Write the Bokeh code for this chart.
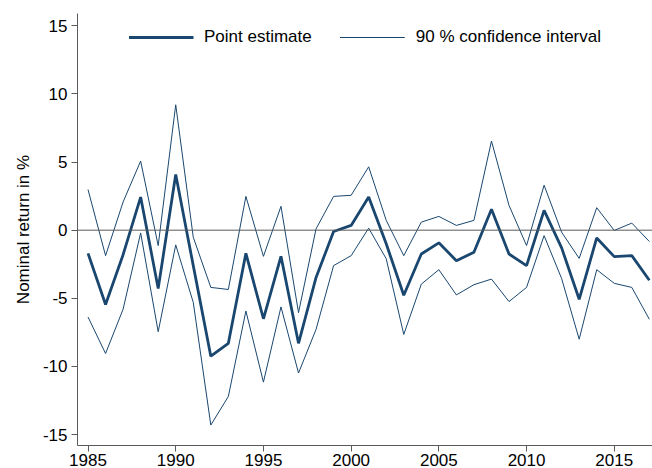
from bokeh.plotting import figure
from bokeh.models import Legend, LegendItem, Span, FixedTicker, Range1d
from bokeh.embed import file_html
from bokeh.resources import INLINE

years = list(range(1985, 2018))
point = [-1.7, -5.45, -1.8, 2.43, -4.28, 4.08, -2.6, -9.25, -8.3, -1.7, -6.5, -1.92, -8.3,
         -3.47, -0.1, 0.35, 2.43, -1.0, -4.77, -1.75, -0.93, -2.24, -1.62, 1.53, -1.75, -2.6,
         1.45, -1.3, -5.07, -0.57, -1.94, -1.87, -3.67]
upper = [2.98, -1.87, 2.07, 5.07, -1.13, 9.2, -0.52, -4.2, -4.35, 2.48, -1.92, 1.75, -6.05,
         0.1, 2.48, 2.56, 4.65, 0.72, -1.87, 0.59, 1.01, 0.35, 0.72, 6.54, 1.82, -1.13,
         3.3, -0.15, -2.07, 1.65, -0.02, 0.52, -0.83]
lower = [-6.37, -9.05, -5.8, -0.2, -7.45, -1.08, -5.3, -14.3, -12.2, -5.93, -11.15, -5.63, -10.48,
         -7.28, -2.6, -1.87, 0.15, -2.1, -7.65, -3.96, -2.9, -4.75, -4.0, -3.59, -5.24, -4.2,
         -0.4, -3.55, -8.0, -2.9, -3.9, -4.2, -6.54]
x_ticks = [1985, 1990, 1995, 2000, 2005, 2010, 2015]
y_ticks = [-15, -10, -5, 0, 5, 10, 15]

COLOR = "#1a476f"
FONT = "Liberation Sans"

p = figure(width=652, height=468, output_backend="svg", toolbar_location=None,
           x_range=Range1d(1984.40, 2017.18), y_range=Range1d(-15.8, 15.9),
           min_border_left=77, min_border_right=0, min_border_top=13, min_border_bottom=10)
p.outline_line_color = None
p.xgrid.grid_line_color = None
p.ygrid.grid_line_color = None
p.background_fill_color = "white"
p.border_fill_color = "white"

zero = Span(location=0, dimension="width", line_color="#5a5a5a", line_width=1)
p.add_layout(zero)

r_up = p.line(years, upper, line_color=COLOR, line_width=1)
r_lo = p.line(years, lower, line_color=COLOR, line_width=1)
r_pt = p.line(years, point, line_color=COLOR, line_width=2.8)

legend = Legend(items=[LegendItem(label="Point estimate", renderers=[r_pt]),
                       LegendItem(label="90 % confidence interval", renderers=[r_up, r_lo])],
                orientation="horizontal", location="top_center",
                border_line_color=None, background_fill_alpha=0,
                glyph_width=65, glyph_height=20, label_height=20,
                label_standoff=11, spacing=28, padding=6, margin=14,
                label_text_font=FONT, label_text_font_size="17px", label_text_color="#000000")
p.add_layout(legend)

for ax in (p.xaxis, p.yaxis):
    ax.axis_line_color = "#5a5a5a"
    ax.major_tick_line_color = "#5a5a5a"
    ax.minor_tick_line_color = None
    ax.major_tick_out = 6
    ax.major_tick_in = 0
    ax.major_label_text_font = FONT
    ax.major_label_text_font_size = "17px"
    ax.major_label_text_color = "#000000"
    ax.major_label_standoff = 4

p.xaxis.major_label_standoff = 2
p.xaxis.ticker = FixedTicker(ticks=x_ticks)
p.yaxis.ticker = FixedTicker(ticks=y_ticks)
p.yaxis.major_label_overrides = {t: str(t) for t in y_ticks}
p.xaxis.major_label_overrides = {t: str(t) for t in x_ticks}
p.yaxis.axis_label = "Nominal return in %"
p.yaxis.axis_label_text_font = FONT
p.yaxis.axis_label_text_font_size = "17px"
p.yaxis.axis_label_text_font_style = "normal"
p.yaxis.axis_label_text_color = "#000000"
p.yaxis.axis_label_standoff = 7

open("out.html", "w").write(file_html(p, INLINE))
